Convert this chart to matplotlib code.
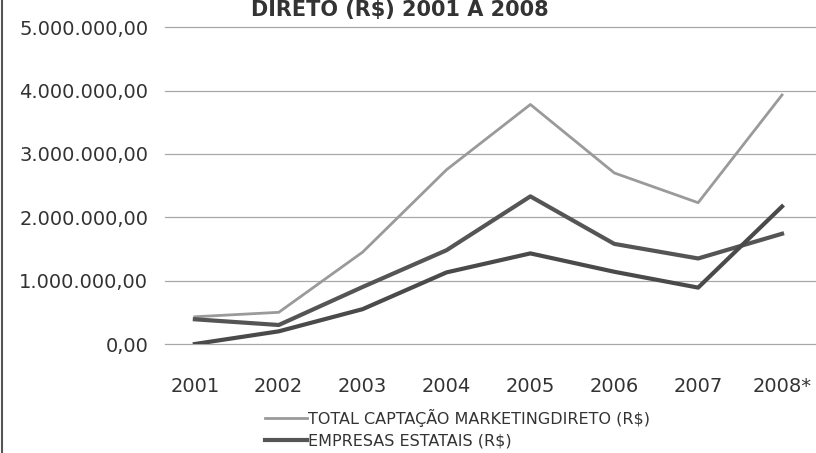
import matplotlib
matplotlib.use("Agg")
import matplotlib.pyplot as plt
from matplotlib.lines import Line2D
from matplotlib.ticker import FuncFormatter

years = ["2001", "2002", "2003", "2004", "2005", "2006", "2007", "2008*"]
total_captacao = [430000, 500000, 1450000, 2750000, 3780000, 2700000, 2230000, 3930000]
empresas_estatais = [390000, 300000, 900000, 1480000, 2330000, 1580000, 1350000, 1740000]
outras = [0, 200000, 550000, 1130000, 1430000, 1140000, 890000, 2170000]

y_ticks = [0, 1000000, 2000000, 3000000, 4000000, 5000000]


def br_money(v, pos=None):
    s = "{:,.2f}".format(v)
    return s.replace(",", "X").replace(".", ",").replace("X", ".")


fig = plt.figure(figsize=(8.16, 4.53), dpi=100)
ax = fig.add_axes([0.202, 0.2406, 0.798, 0.6994])

x = list(range(len(years)))
ln_total, = ax.plot(x, total_captacao, color="#9a9a9a", linewidth=2.0,
                    label="TOTAL CAPTAÇÃO MARKETINGDIRETO (R$)")
ln_est, = ax.plot(x, empresas_estatais, color="#555555", linewidth=3.0,
                  label="EMPRESAS ESTATAIS (R$)")
ax.plot(x, outras, color="#4a4a4a", linewidth=3.0)

ax.set_ylim(0, 5000000)
ax.set_xlim(-0.358, 7.405)
ax.set_yticks(y_ticks)
ax.yaxis.set_major_formatter(FuncFormatter(br_money))
ax.set_xticks(x)
ax.set_xticklabels(years)
ax.grid(axis="y", color="#a8a8a8", linewidth=0.9)
for gl in ax.get_ygridlines():
    gl.set_clip_on(False)
ax.set_axisbelow(True)
for sp in ax.spines.values():
    sp.set_visible(False)
ax.tick_params(axis="both", length=0, colors="#333333")
ax.tick_params(axis="y", pad=12, labelsize=14)
ax.tick_params(axis="x", pad=24, labelsize=14)

fig.text(0.49, 0.999, "DIRETO (R$) 2001 A 2008", ha="center", va="top",
         fontsize=15, fontweight="bold", color="#333333")

leg = fig.legend(handles=[ln_total, ln_est], loc="upper left",
                 bbox_to_anchor=(0.315, 0.115), frameon=False,
                 fontsize=11.5, handlelength=2.6, handletextpad=0.1,
                 labelspacing=0.42, borderpad=0)
for t in leg.get_texts():
    t.set_color("#333333")

# left frame of the scanned page
fig.add_artist(Line2D([0.003, 0.003], [0, 1], transform=fig.transFigure,
                      color="#555555", linewidth=1.5))

fig.savefig("out.png", dpi=100)
